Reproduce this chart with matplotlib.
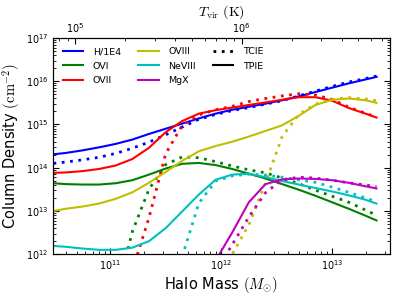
import numpy as np
import matplotlib
matplotlib.use('Agg')
import matplotlib.pyplot as plt
from matplotlib.lines import Line2D

plt.rcParams['font.family'] = 'DejaVu Sans'
plt.rcParams['mathtext.fontset'] = 'cm'

nan = np.nan

# halo mass grid, log10(M / Msun)
log_mass = [10.49, 10.6, 10.75, 10.9, 11.05, 11.2, 11.35, 11.5, 11.65, 11.8, 11.95,
            12.1, 12.25, 12.4, 12.55, 12.7, 12.85, 13.0, 13.15, 13.3, 13.4]

# log10 column densities (cm^-2); TPIE = solid, TCIE = dotted
h_tpie = [14.31, 14.34, 14.40, 14.47, 14.55, 14.65, 14.78, 14.90, 15.02, 15.14, 15.25,
          15.34, 15.41, 15.48, 15.56, 15.65, 15.75, 15.85, 15.95, 16.04, 16.10]
h_tcie = [14.10, 14.13, 14.18, 14.24, 14.33, 14.45, 14.59, 14.76, 14.94, 15.12, 15.23,
          15.32, 15.39, 15.47, 15.55, 15.66, 15.77, 15.88, 15.98, 16.06, 16.12]

o6_tpie = [13.64, 13.62, 13.61, 13.61, 13.64, 13.71, 13.84, 13.98, 14.09, 14.11, 14.06,
           13.97, 13.86, 13.75, 13.62, 13.49, 13.35, 13.20, 13.05, 12.89, 12.78]
o6_tcie = [nan, nan, nan, nan, 11.00, 12.52, 13.50, 14.07, 14.25, 14.23, 14.14,
           14.04, 13.95, 13.88, 13.76, 13.63, 13.48, 13.34, 13.20, 13.02, 12.90]

o7_tpie = [13.88, 13.89, 13.92, 13.97, 14.05, 14.20, 14.46, 14.82, 15.08, 15.25, 15.33,
           15.39, 15.45, 15.51, 15.57, 15.63, 15.63, 15.55, 15.38, 15.25, 15.16]
o7_tcie = [nan, nan, nan, nan, nan, 11.62, 12.84, 14.32, 14.98, 15.22, 15.34,
           15.42, 15.53, 15.60, 15.66, 15.71, 15.68, 15.58, 15.40, 15.26, 15.17]

o8_tpie = [13.00, 13.05, 13.10, 13.17, 13.28, 13.43, 13.65, 13.90, 14.16, 14.38, 14.50,
           14.60, 14.72, 14.85, 14.98, 15.20, 15.45, 15.57, 15.60, 15.56, 15.50]
o8_tcie = [nan, nan, nan, nan, nan, nan, nan, nan, nan, nan, 11.35,
           12.00, 12.68, 13.65, 14.72, 15.23, 15.47, 15.58, 15.62, 15.59, 15.55]

ne8_tpie = [12.19, 12.17, 12.13, 12.10, 12.10, 12.15, 12.30, 12.60, 12.99, 13.38, 13.72,
            13.84, 13.86, 13.78, 13.69, 13.61, 13.53, 13.45, 13.36, 13.26, 13.17]
ne8_tcie = [nan, nan, nan, nan, nan, nan, nan, 11.50, 11.95, 13.18, 13.69,
            13.81, 13.85, 13.83, 13.78, 13.72, 13.66, 13.55, 13.43, 13.30, 13.21]

mg10_tpie = [nan, nan, nan, nan, nan, nan, nan, nan, nan, nan, 11.85,
             12.50, 13.20, 13.62, 13.73, 13.75, 13.74, 13.71, 13.65, 13.57, 13.52]
mg10_tcie = [nan, nan, nan, nan, nan, nan, nan, nan, nan, nan, 11.60,
             12.22, 12.86, 13.42, 13.72, 13.78, 13.76, 13.71, 13.65, 13.60, 13.56]

names = ['H/1E4', 'OVI', 'OVII', 'OVIII', 'NeVIII', 'MgX']
colors = ['b', (0, 0.5, 0), 'r', (0.75, 0.75, 0), (0, 0.75, 0.75), (0.75, 0, 0.75)]
tpie = [h_tpie, o6_tpie, o7_tpie, o8_tpie, ne8_tpie, mg10_tpie]
tcie = [h_tcie, o6_tcie, o7_tcie, o8_tcie, ne8_tcie, mg10_tcie]

dots = (0, (1, 2))

fig = plt.figure(figsize=(3.99, 2.99), dpi=100)
ax = fig.add_axes([0.133, 0.150, 0.844, 0.723])

mass = 10 ** np.array(log_mass)
for color, n1, n2 in zip(colors, tpie, tcie):
    ax.plot(mass, 10 ** np.array(n2), color=color, ls=dots, lw=2)
    ax.plot(mass, 10 ** np.array(n1), color=color, lw=1.5)

ax.set_xscale('log')
ax.set_yscale('log')
mlo, mhi = 10 ** 10.486, 10 ** 13.52
ax.set_xlim(mlo, mhi)
ax.set_ylim(1e12, 1e17)
ax.tick_params(which='both', direction='in', right=True, labelsize=7, pad=3)
ax.tick_params(which='major', length=4)
ax.tick_params(which='minor', length=2)
ax.set_xlabel(r'Halo Mass $(M_{\odot})$', fontsize=10.5, labelpad=2)
ax.set_ylabel(r'Column Density $(\mathrm{cm}^{-2})$', fontsize=10.5, labelpad=3)

# virial temperature on top axis
def tvir(m):
    return 1e5 * (m / 10 ** 10.685) ** (2.0 / 3.0)

top = ax.twiny()
top.set_xscale('log')
top.set_xlim(tvir(mlo), tvir(mhi))
top.tick_params(which='both', direction='in', labelsize=7, pad=2)
top.tick_params(which='major', length=4)
top.tick_params(which='minor', length=2)
top.set_xlabel(r'$T_{\rm vir}\ (\mathrm{K})$', fontsize=10, labelpad=4)

handles = [Line2D([], [], color=c, lw=1.5) for c in colors]
handles += [Line2D([], [], color='k', ls=dots, lw=2), Line2D([], [], color='k', lw=1.5)]
labels = names + ['TCIE', 'TPIE']
ax.legend(handles, labels, ncol=3, loc='upper left', frameon=False, fontsize=6.8,
          handlelength=2.2, handletextpad=1.0, columnspacing=1.8, labelspacing=0.55,
          borderaxespad=0.6)

fig.savefig('out.png', dpi=100)
